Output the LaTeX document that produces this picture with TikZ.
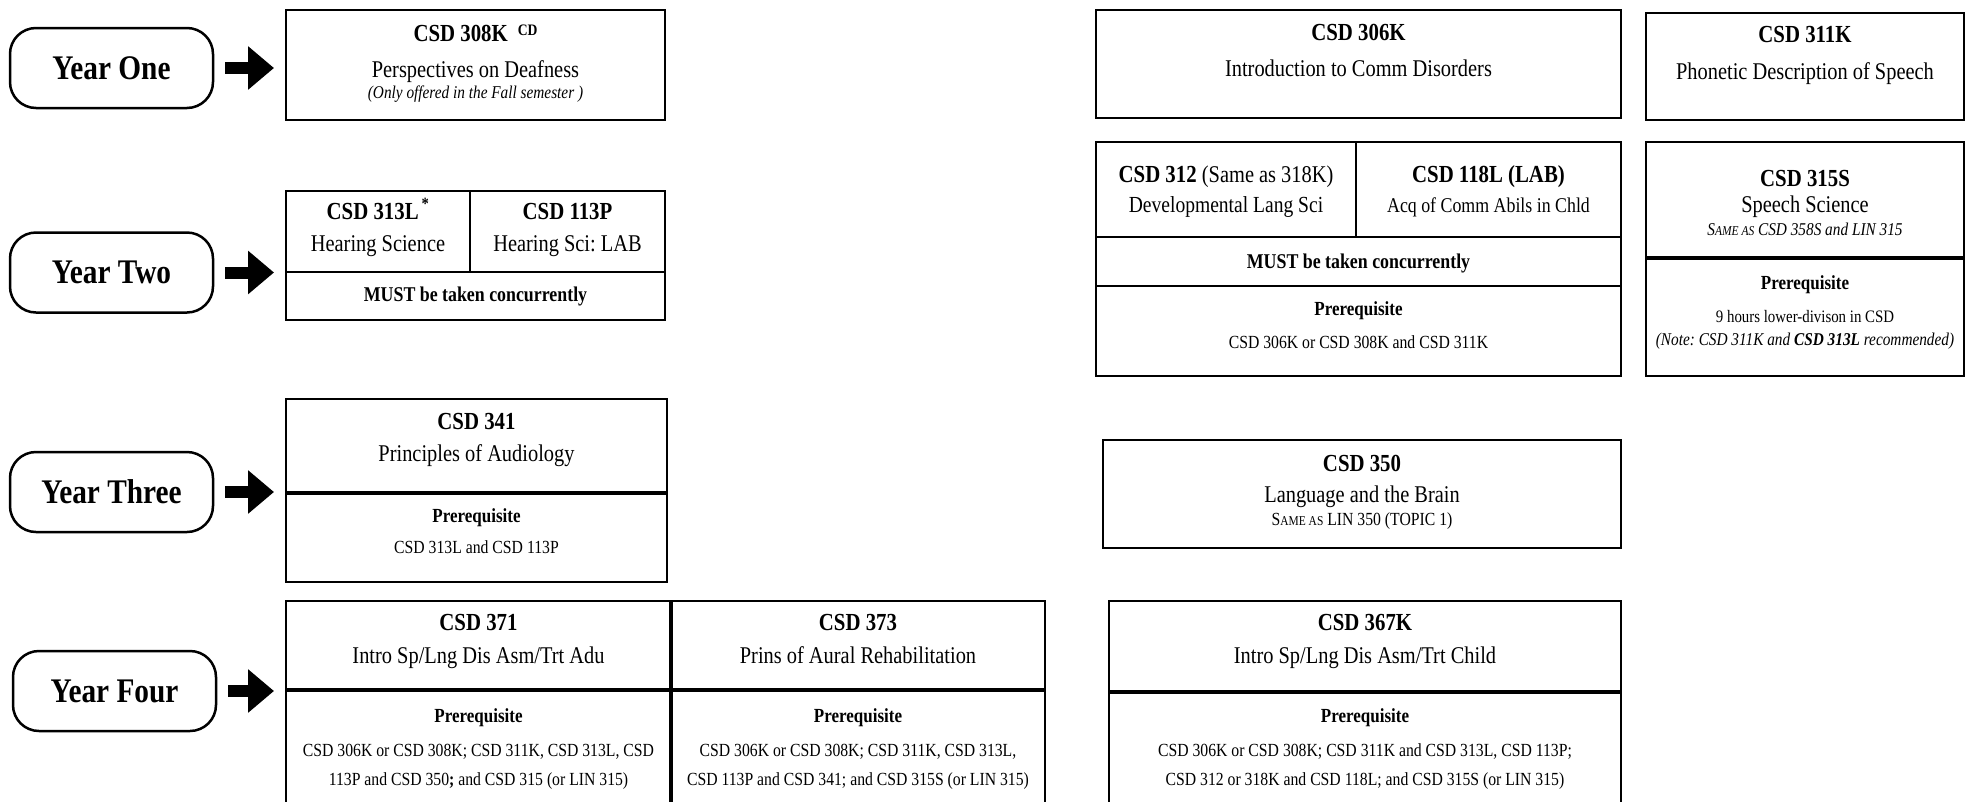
\documentclass[tikz,border=0pt]{standalone}
\usepackage{fontspec}
\setmainfont{Liberation Serif}[FakeStretch=0.85]
\usetikzlibrary{arrows.meta}
\frenchspacing
\newcommand{\yearfont}{\fontsize{34.5}{38}\selectfont\bfseries}
\newcommand{\codefont}{\fontsize{24.5}{28}\selectfont\bfseries}
\newcommand{\namefont}{\fontsize{24}{28}\selectfont}
\newcommand{\mustfont}{\fontsize{21}{24}\selectfont\bfseries}
\newcommand{\prefont}{\fontsize{20}{24}\selectfont\bfseries}
\newcommand{\linefont}{\fontsize{18.5}{22}\selectfont}
\newcommand{\notefont}{\fontsize{18}{22}\selectfont\itshape}
\newcommand{\smcap}[1]{{\fontsize{13.5}{16}\selectfont #1}}
\begin{document}
\begin{tikzpicture}[x=1pt,y=-1pt,
  yearbox/.style={draw,line width=2.5pt,rounded corners=26pt,minimum width=203pt,minimum height=80pt,inner sep=0pt,font=\yearfont},
  yeararrow/.style={line width=12pt,-{Triangle[length=26pt,width=42pt]},shorten <=11pt,shorten >=12pt},
  cellbox/.style={line width=2.6pt},
  heavyline/.style={line width=3.8pt},
  txt/.style={anchor=base,inner sep=0pt}]
  \useasboundingbox (0,0) rectangle (1967,801);
  \clip (0,0) rectangle (1967,801);
  %year one
  \node[yearbox] (yr1) at (111.5,68) {Year One};
  \draw[cellbox] (286,10) rectangle (665,120);
  \coordinate (c308) at (286,65);
  \node[txt] (t308) at (475.5,41) {\codefont CSD 308K\hspace{10pt}\raisebox{6pt}{\fontsize{16}{16}\selectfont CD}};
  \node[txt] (n308) at (475.5,77) {\namefont Perspectives on Deafness};
  \node[txt] (o308) at (475.5,98) {\notefont (Only offered in the Fall semester )};
  \draw[yeararrow] (yr1) -- (yr1 -| c308);
  %year two
  \node[yearbox] (yr2) at (111.5,272.5) {Year Two};
  \draw[cellbox] (286,191) rectangle (665,320);
  \draw[cellbox] (470,191) -- (470,272) (286,272) -- (665,272);
  \coordinate (c313) at (286,272);
  \node[txt] (t313) at (378,219) {\codefont CSD 313L\textsuperscript{\,*}};
  \node[txt] (n313) at (378,251) {\namefont Hearing Science};
  \node[txt] (t113) at (567.5,219) {\codefont CSD 113P};
  \node[txt] (n113) at (567.5,251) {\namefont Hearing Sci: LAB};
  \node[txt] (m313) at (475.5,301) {\mustfont MUST be taken concurrently};
  \draw[yeararrow] (yr2) -- (yr2 -| c313);
  %year three
  \node[yearbox] (yr3) at (111.5,492) {Year Three};
  \draw[cellbox] (286,399) rectangle (667,582);
  \draw[heavyline] (286,493) -- (667,493);
  \coordinate (c341) at (286,492);
  \node[txt] (t341) at (476.5,429) {\codefont CSD 341};
  \node[txt] (n341) at (476.5,461) {\namefont Principles of Audiology};
  \node[txt] (p341) at (476.5,522) {\prefont Prerequisite};
  \node[txt] (l341) at (476.5,553) {\linefont CSD 313L and CSD 113P};
  \draw[yeararrow] (yr3) -- (yr3 -| c341);
  %year four
  \node[yearbox] (yr4) at (114.5,691) {Year Four};
  \draw[cellbox] (286,601) rectangle (1045,830);
  \draw[heavyline] (671,601) -- (671,830) (286,690) -- (1045,690);
  \coordinate (c371) at (286,691);
  \node[txt] (t371) at (478.5,630) {\codefont CSD 371};
  \node[txt] (n371) at (478.5,663) {\namefont Intro Sp/Lng Dis Asm/Trt Adu};
  \node[txt] (p371) at (478.5,722) {\prefont Prerequisite};
  \node[txt] (a371) at (478.5,756) {\linefont CSD 306K or CSD 308K; CSD 311K, CSD 313L, CSD};
  \node[txt] (b371) at (478.5,785) {\linefont 113P and CSD 350\textbf{;} and CSD 315 (or LIN 315)};
  \node[txt] (t373) at (858,630) {\codefont CSD 373};
  \node[txt] (n373) at (858,663) {\namefont Prins of Aural Rehabilitation};
  \node[txt] (p373) at (858,722) {\prefont Prerequisite};
  \node[txt] (a373) at (858,756) {\linefont CSD 306K or CSD 308K; CSD 311K, CSD 313L,};
  \node[txt] (b373) at (858,785) {\linefont CSD 113P and CSD 341; and CSD 315S (or LIN 315)};
  \draw[yeararrow] (yr4) -- (yr4 -| c371);
  %csd 306k
  \draw[cellbox] (1096,10) rectangle (1621,118);
  \node[txt] (t306) at (1358.5,40) {\codefont CSD 306K};
  \node[txt] (n306) at (1358.5,76) {\namefont Introduction to Comm Disorders};
  %csd 311k
  \draw[cellbox] (1646,13) rectangle (1964,120);
  \node[txt] (t311) at (1805,42) {\codefont CSD 311K};
  \node[txt] (n311) at (1805,79) {\namefont Phonetic Description of Speech};
  %csd 312 and 118l
  \draw[cellbox] (1096,142) rectangle (1621,376);
  \draw[cellbox] (1356,142) -- (1356,237) (1096,237) -- (1621,237) (1096,286) -- (1621,286);
  \node[txt] (t312) at (1226,182) {\codefont CSD 312 \namefont\mdseries (Same as 318K)};
  \node[txt] (n312) at (1226,212) {\fontsize{23}{27}\selectfont Developmental Lang Sci};
  \node[txt] (t118) at (1488.5,182) {\codefont CSD 118L (LAB)};
  \node[txt] (n118) at (1488.5,212) {\fontsize{21}{25}\selectfont Acq of Comm Abils in Chld};
  \node[txt] (m312) at (1358.5,268) {\mustfont MUST be taken concurrently};
  \node[txt] (p312) at (1358.5,315) {\prefont Prerequisite};
  \node[txt] (l312) at (1358.5,348) {\linefont CSD 306K or CSD 308K and CSD 311K};
  %csd 315s
  \draw[cellbox] (1646,142) rectangle (1964,376);
  \draw[heavyline] (1646,258) -- (1964,258);
  \node[txt] (t315) at (1805,186) {\codefont CSD 315S};
  \node[txt] (n315) at (1805,212) {\namefont Speech Science};
  \node[txt] (s315) at (1805,235) {\notefont S\smcap{AME AS} CSD 358S and LIN 315};
  \node[txt] (p315) at (1805,289) {\prefont Prerequisite};
  \node[txt] (a315) at (1805,322) {\fontsize{17.5}{21}\selectfont 9 hours lower-divison in CSD};
  \node[txt] (b315) at (1805,345) {\notefont (Note: CSD 311K and \textbf{CSD 313L} recommended)};
  %csd 350
  \draw[cellbox] (1103,440) rectangle (1621,548);
  \node[txt] (t350) at (1362,471) {\codefont CSD 350};
  \node[txt] (n350) at (1362,502) {\namefont Language and the Brain};
  \node[txt] (s350) at (1362,525) {\linefont S\smcap{AME AS} LIN 350 (TOPIC 1)};
  %csd 367k
  \draw[cellbox] (1109,601) rectangle (1621,830);
  \draw[heavyline] (1109,692) -- (1621,692);
  \node[txt] (t367) at (1365,630) {\codefont CSD 367K};
  \node[txt] (n367) at (1365,663) {\namefont Intro Sp/Lng Dis Asm/Trt Child};
  \node[txt] (p367) at (1365,722) {\prefont Prerequisite};
  \node[txt] (a367) at (1365,756) {\linefont CSD 306K or CSD 308K; CSD 311K and CSD 313L, CSD 113P;};
  \node[txt] (b367) at (1365,785) {\linefont CSD 312 or 318K and CSD 118L; and CSD 315S (or LIN 315)};
\end{tikzpicture}
\end{document}
